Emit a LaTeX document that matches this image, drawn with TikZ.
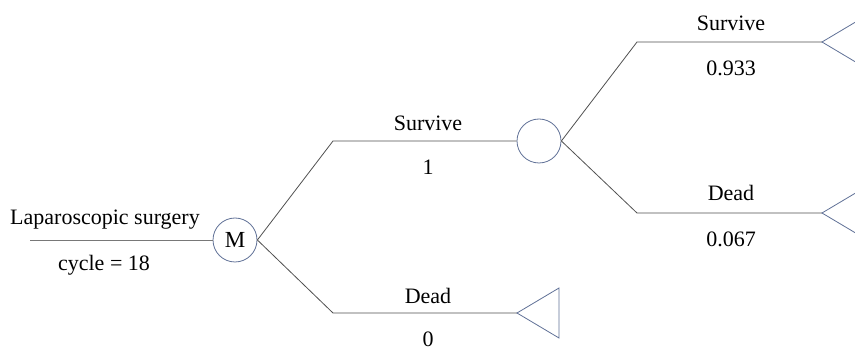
\documentclass[tikz,border=0pt]{standalone}
\usepackage{fontspec}
\setmainfont{Liberation Serif}
\begin{document}
\begin{tikzpicture}[x=1pt,y=-1pt,
  branch/.style={draw={rgb,255:red,80;green,80;blue,80},line width=0.8pt},
  rootline/.style={draw={rgb,255:red,120;green,120;blue,120},line width=0.8pt},
  nodeedge/.style={draw={rgb,255:red,95;green,112;blue,150},line width=0.8pt},
  chance/.style={circle,nodeedge,minimum size=44pt,inner sep=0pt,font=\fontsize{23}{26}\selectfont},
  lbl/.style={font=\fontsize{22}{24}\selectfont,inner sep=0pt}]
\useasboundingbox (0,0) rectangle (855,355);
% nodes
\node[chance] (M) at (235,240) {M};
\node[chance] (C) at (539,141) {};
\coordinate (r0) at (30,240);
\coordinate (e1) at (333,141);
\coordinate (e2) at (333,313);
\coordinate (t1) at (517,313);
\coordinate (e3) at (637,42);
\coordinate (t2) at (822,42);
\coordinate (e4) at (637,213);
\coordinate (t3) at (822,213);
% connectors
\draw[rootline] (r0) -- (M.west);
\draw[branch] (M.east) -- (e1) -- (C.west);
\draw[branch] (M.east) -- (e2) -- (t1);
\draw[branch] (C.east) -- (e3) -- (t2);
\draw[branch] (C.east) -- (e4) -- (t3);
% terminal triangles
\draw[nodeedge,line join=miter] (t1) -- ++(42,-25) -- ++(0,50) -- cycle;
\draw[nodeedge,line join=miter] (t2) -- ++(42,-25) -- ++(0,50) -- cycle;
\draw[nodeedge,line join=miter] (t3) -- ++(42,-25) -- ++(0,50) -- cycle;
% labels
\node[lbl] (lroot) at (105,220) {Laparoscopic surgery};
\node[lbl] (lcyc) at (104,265) {cycle = 18};
\node[lbl] (ls1) at (428,123) {Survive};
\node[lbl] (lp1) at (428,167) {1};
\node[lbl] (ld1) at (428,296) {Dead};
\node[lbl] (lp0) at (428,339) {0};
\node[lbl] (ls2) at (731,23) {Survive};
\node[lbl] (lp2) at (731,68) {0.933};
\node[lbl] (ld2) at (731,193) {Dead};
\node[lbl] (lp3) at (731,239) {0.067};
\end{tikzpicture}
\end{document}
